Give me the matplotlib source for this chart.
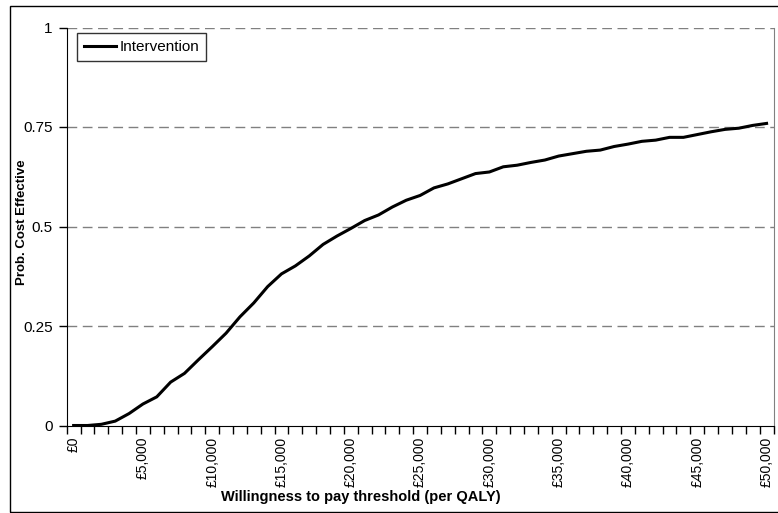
import matplotlib
matplotlib.use("Agg")
import matplotlib.pyplot as plt
from matplotlib.patches import Rectangle
from matplotlib.ticker import FixedLocator, FuncFormatter

plt.rcParams["font.family"] = ["Liberation Sans", "DejaVu Sans"]

# Willingness-to-pay thresholds (GBP per QALY) and probability cost-effective
wtp = [1000 * i for i in range(51)]
prob_intervention = [
    0.000, 0.000, 0.003, 0.011, 0.030, 0.054, 0.072, 0.109, 0.131, 0.165,
    0.198, 0.232, 0.273, 0.308, 0.349, 0.381, 0.401, 0.426, 0.455, 0.476,
    0.495, 0.515, 0.529, 0.549, 0.566, 0.578, 0.597, 0.607, 0.620, 0.633,
    0.637, 0.650, 0.654, 0.661, 0.667, 0.677, 0.683, 0.689, 0.692, 0.701,
    0.707, 0.714, 0.717, 0.724, 0.724, 0.731, 0.738, 0.744, 0.747, 0.754,
    0.759,
]
y_ticks = [0, 0.25, 0.5, 0.75, 1]
y_tick_labels = ["0", "0.25", "0.5", "0.75", "1"]
x_label_ticks = list(range(0, 50001, 5000))

W, H = 778, 513
fig = plt.figure(figsize=(W / 100, H / 100), dpi=100)
fig.patch.set_facecolor("white")

# Outer chart frame
fig.patches.append(Rectangle((10 / W, 1 - 512 / H), 800 / W, (512 - 5.5) / H,
                             transform=fig.transFigure, fill=False,
                             edgecolor="black", linewidth=1.0, zorder=0))

left, right = 66.7 / W, 773.5 / W
bottom, top = 1 - 425.5 / H, 1 - 27.5 / H
ax = fig.add_axes([left, bottom, right - left, top - bottom])

ax.plot(wtp, prob_intervention, color="black", linewidth=2.2,
        label="Intervention", solid_joinstyle="round", zorder=3)

ax.set_xlim(-500, 50500)
ax.set_ylim(0, 1)

# Horizontal dashed gridlines
for yv in y_ticks[1:]:
    ax.axhline(yv, color="#808080", linewidth=1.0, linestyle=(0, (7, 4)), zorder=1)

ax.yaxis.set_major_locator(FixedLocator(y_ticks))
ax.set_yticklabels(y_tick_labels)
ax.tick_params(axis="y", direction="out", length=6, width=1, pad=4,
               labelsize=11, color="black")

ax.xaxis.set_major_locator(FixedLocator(x_label_ticks))
ax.xaxis.set_major_formatter(FuncFormatter(lambda v, p: "£{:,.0f}".format(v)))
ax.xaxis.set_minor_locator(FixedLocator([-500 + 1000 * k for k in range(52)]))
ax.tick_params(axis="x", which="major", length=0, pad=8, labelsize=10,
               labelrotation=90)
ax.tick_params(axis="x", which="minor", direction="out", length=6, width=1,
               color="black")
for lbl in ax.get_xticklabels():
    lbl.set_verticalalignment("top")

ax.spines["top"].set_visible(False)
ax.spines["right"].set_color("#808080")
ax.spines["left"].set_color("black")
ax.spines["bottom"].set_color("black")

fig.text(361 / W, 1 - 497 / H, "Willingness to pay threshold (per QALY)",
         ha="center", va="center", fontsize=10.5, fontweight="bold")
fig.text(22 / W, 1 - 222 / H, "Prob. Cost Effective", rotation=90,
         ha="center", va="center", fontsize=9.5, fontweight="bold")

leg = ax.legend(loc="upper left", bbox_to_anchor=((77 - 66.7) / (773.5 - 66.7),
                                                   1 - (33 - 27.5) / 398),
                frameon=True, fancybox=False, fontsize=11, borderpad=0.45,
                handlelength=2.1, handletextpad=0.25, borderaxespad=0)
leg.get_frame().set_edgecolor("black")
leg.get_frame().set_linewidth(1.0)

fig.savefig("out.png", dpi=100, facecolor="white")
